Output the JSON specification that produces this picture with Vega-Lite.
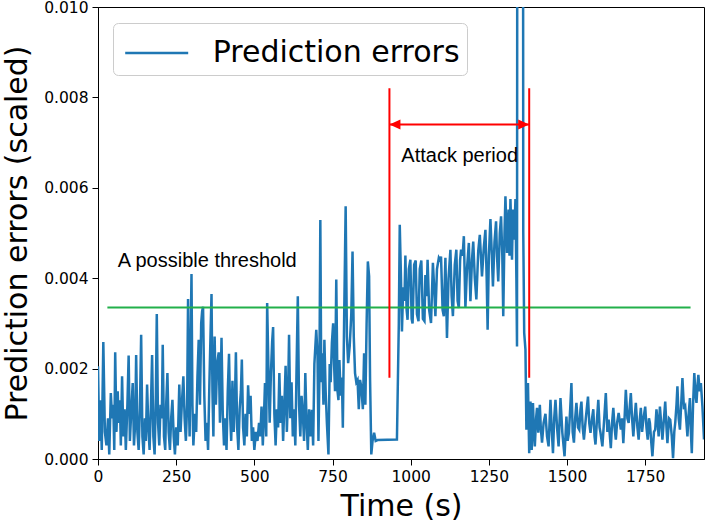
{
  "$schema": "https://vega.github.io/schema/vega-lite/v6.json",
  "width": 606,
  "height": 452,
  "autosize": {"type": "none"},
  "padding": {"left": 98, "top": 7, "right": 2, "bottom": 64},
  "background": "#ffffff",
  "config": {
    "view": {"stroke": "#000000", "strokeWidth": 1},
    "font": "DejaVu Sans",
    "axis": {
      "grid": false,
      "domainColor": "#000000",
      "tickColor": "#000000",
      "labelColor": "#000000",
      "titleColor": "#000000",
      "labelFont": "DejaVu Sans",
      "titleFont": "DejaVu Sans",
      "labelFontSize": 15.5,
      "titleFontSize": 30,
      "titleFontWeight": "normal",
      "tickSize": 6,
      "labelPadding": 4,
      "labelFlush": false,
      "labelOverlap": false
    }
  },
  "datasets": {
    "errors": [
      {"t":0,"v":0.00205},{"t":4,"v":0.0004},{"t":8,"v":0.0013},{"t":12,"v":0.0002},{"t":17,"v":0.00259},{"t":22,"v":0.0006},{"t":27,"v":0.0003},{"t":32,"v":0.0009},{"t":36,"v":0.0001},{"t":41,"v":0.00146},{"t":45,"v":0.0009},{"t":49,"v":0.0012},{"t":52,"v":0.0002},{"t":55,"v":0.00236},{"t":59,"v":0.0006},{"t":63,"v":0.0015},{"t":66,"v":0.0008},{"t":70,"v":0.0013},{"t":73,"v":0.0003},{"t":77,"v":0.00183},{"t":81,"v":0.0005},{"t":85,"v":0.0011},{"t":89,"v":0.0002},{"t":94,"v":0.0012},{"t":98,"v":0.00229},{"t":102,"v":0.0004},{"t":106,"v":0.001},{"t":111,"v":0.00168},{"t":115,"v":0.0003},{"t":119,"v":0.0008},{"t":122,"v":0.0023},{"t":126,"v":0.0006},{"t":130,"v":0.0002},{"t":134,"v":0.0011},{"t":138,"v":0.00275},{"t":142,"v":0.0005},{"t":146,"v":0.0001},{"t":150,"v":0.0009},{"t":153,"v":0.0004},{"t":157,"v":0.00165},{"t":161,"v":0.0007},{"t":165,"v":0.0002},{"t":169,"v":0.0011},{"t":173,"v":0.0023},{"t":177,"v":0.0005},{"t":181,"v":0.0001},{"t":185,"v":0.0014},{"t":188,"v":0.00321},{"t":192,"v":0.0008},{"t":196,"v":0.0003},{"t":200,"v":0.0012},{"t":204,"v":0.0009},{"t":207,"v":0.00253},{"t":211,"v":0.0005},{"t":215,"v":0.0002},{"t":218,"v":0.0012},{"t":222,"v":0.0019},{"t":226,"v":0.0006},{"t":230,"v":0.0002},{"t":234,"v":0.0009},{"t":238,"v":0.00131},{"t":242,"v":0.0005},{"t":246,"v":0.0001},{"t":250,"v":0.0007},{"t":255,"v":0.0003},{"t":260,"v":0.00165},{"t":264,"v":0.0006},{"t":268,"v":0.0012},{"t":273,"v":0.00183},{"t":277,"v":0.0009},{"t":281,"v":0.0004},{"t":285,"v":0.0012},{"t":288,"v":0.00354},{"t":290,"v":0.0015},{"t":293,"v":0.0005},{"t":296,"v":0.0025},{"t":299,"v":0.00409},{"t":302,"v":0.0012},
      {"t":305,"v":0.0003},{"t":310,"v":0.001},{"t":314,"v":0.0006},{"t":318,"v":0.0018},{"t":322,"v":0.00264},{"t":326,"v":0.0012},{"t":330,"v":0.003},{"t":333,"v":0.00327},{"t":336,"v":0.00337},{"t":340,"v":0.0014},{"t":344,"v":0.0004},{"t":348,"v":0.0008},{"t":352,"v":0.0002},{"t":356,"v":0.0016},{"t":360,"v":0.0028},{"t":363,"v":0.00365},{"t":366,"v":0.0015},{"t":369,"v":0.0005},{"t":373,"v":0.00271},{"t":377,"v":0.0012},{"t":381,"v":0.0021},{"t":386,"v":0.00236},{"t":390,"v":0.0008},{"t":395,"v":0.00268},{"t":399,"v":0.001},{"t":403,"v":0.0003},{"t":407,"v":0.0009},{"t":411,"v":0.0002},{"t":415,"v":0.0015},{"t":419,"v":0.00233},{"t":423,"v":0.0009},{"t":426,"v":0.0004},{"t":430,"v":0.00173},{"t":434,"v":0.0006},{"t":438,"v":0.0013},{"t":441,"v":0.00236},{"t":445,"v":0.0007},{"t":449,"v":0.0002},{"t":453,"v":0.0011},{"t":457,"v":0.0015},{"t":460,"v":0.0022},{"t":464,"v":0.0007},{"t":468,"v":0.0003},{"t":472,"v":0.001},{"t":476,"v":0.0005},{"t":480,"v":0.00163},{"t":484,"v":0.001},{"t":488,"v":0.0014},{"t":492,"v":0.0004},{"t":496,"v":0.0007},{"t":500,"v":0.0002},{"t":505,"v":0.0006},{"t":510,"v":0.0004},{"t":515,"v":0.0008},{"t":519,"v":0.0005},{"t":523,"v":0.00116},{"t":527,"v":0.0003},{"t":531,"v":0.001},{"t":534,"v":0.00168},{"t":538,"v":0.0005},{"t":541,"v":0.00345},{"t":545,"v":0.002},{"t":549,"v":0.0008},{"t":553,"v":0.0019},{"t":557,"v":0.0026},{"t":560,"v":0.00292},{"t":564,"v":0.001},{"t":568,"v":0.0003},{"t":572,"v":0.0011},{"t":576,"v":0.0007},{"t":580,"v":0.0019},{"t":584,"v":0.0008},{"t":588,"v":0.0014},{"t":592,"v":0.0004},{"t":596,"v":0.0012},{"t":600,"v":0.00206},{"t":604,"v":0.0006},{"t":608,"v":0.0015},{"t":611,"v":0.00275},{"t":615,"v":0.0009},{"t":619,"v":0.0017},{"t":623,"v":0.0005},{"t":627,"v":0.0011},{"t":631,"v":0.0003},{"t":635,"v":0.002},{"t":639,"v":0.0036},{"t":643,"v":0.0012},{"t":647,"v":0.0005},{"t":651,"v":0.0014},
      {"t":655,"v":0.001},{"t":659,"v":0.0004},{"t":663,"v":0.0019},{"t":667,"v":0.0008},{"t":671,"v":0.0002},{"t":675,"v":0.0011},{"t":680,"v":0.0005},{"t":684,"v":0.00109},{"t":688,"v":0.0003},{"t":692,"v":0.0021},{"t":698,"v":0.00286},{"t":702,"v":0.0023},{"t":705,"v":0.0004},{"t":708,"v":0.0018},{"t":711,"v":0.00529},{"t":714,"v":0.0017},{"t":717,"v":0.00234},{"t":721,"v":0.0012},{"t":724,"v":0.00264},{"t":728,"v":0.0015},{"t":732,"v":0.0008},{"t":737,"v":0.0001},{"t":741,"v":0.0021},{"t":744,"v":0.0017},{"t":748,"v":0.00257},{"t":752,"v":0.003},{"t":755,"v":0.0021},{"t":758,"v":0.0015},{"t":762,"v":0.00397},{"t":766,"v":0.0015},{"t":769,"v":0.0013},{"t":772,"v":0.00219},{"t":776,"v":0.0014},{"t":780,"v":0.0018},{"t":783,"v":0.00069},{"t":787,"v":0.003},{"t":792,"v":0.00559},{"t":796,"v":0.0027},{"t":800,"v":0.00212},{"t":805,"v":0.0025},{"t":810,"v":0.0032},{"t":814,"v":0.00459},{"t":818,"v":0.0027},{"t":822,"v":0.0019},{"t":826,"v":0.0017},{"t":830,"v":0.00175},{"t":834,"v":0.0011},{"t":838,"v":0.00175},{"t":842,"v":0.0016},{"t":847,"v":0.0011},{"t":851,"v":0.00234},{"t":855,"v":0.0012},{"t":859,"v":0.003},{"t":863,"v":0.00437},{"t":867,"v":0.00404},{"t":870,"v":0.0018},{"t":874,"v":0.0001},{"t":878,"v":0.0004},{"t":883,"v":0.00058},{"t":888,"v":0.0004},{"t":894,"v":0.00042},{"t":956,"v":0.00043},
      {"t":962,"v":0.003},{"t":965,"v":0.00518},{"t":969,"v":0.004},{"t":972,"v":0.00282},{"t":976,"v":0.0038},{"t":980,"v":0.0035},{"t":983,"v":0.0045},{"t":987,"v":0.0033},{"t":990,"v":0.00308},{"t":994,"v":0.0042},{"t":999,"v":0.00441},{"t":1003,"v":0.0031},{"t":1006,"v":0.003},{"t":1011,"v":0.0043},{"t":1016,"v":0.00439},{"t":1020,"v":0.0032},{"t":1025,"v":0.00305},{"t":1029,"v":0.0042},{"t":1034,"v":0.00439},{"t":1039,"v":0.0031},{"t":1044,"v":0.00305},{"t":1047,"v":0.00407},{"t":1051,"v":0.0036},{"t":1054,"v":0.00441},{"t":1059,"v":0.0033},{"t":1065,"v":0.00301},{"t":1071,"v":0.00434},{"t":1075,"v":0.0038},{"t":1079,"v":0.00316},{"t":1084,"v":0.0042},{"t":1090,"v":0.00445},{"t":1094,"v":0.0044},{"t":1097,"v":0.00448},{"t":1102,"v":0.0033},{"t":1106,"v":0.00316},{"t":1111,"v":0.00445},{"t":1116,"v":0.00268},{"t":1121,"v":0.004},{"t":1127,"v":0.00463},{"t":1131,"v":0.0036},{"t":1135,"v":0.00316},{"t":1141,"v":0.0043},{"t":1146,"v":0.00463},{"t":1150,"v":0.0035},{"t":1154,"v":0.00334},{"t":1158,"v":0.0044},{"t":1161,"v":0.00463},{"t":1166,"v":0.0045},{"t":1170,"v":0.00493},{"t":1175,"v":0.00334},{"t":1180,"v":0.0042},{"t":1186,"v":0.00478},{"t":1191,"v":0.00349},{"t":1196,"v":0.0044},{"t":1200,"v":0.00481},{"t":1205,"v":0.004},{"t":1210,"v":0.00353},{"t":1216,"v":0.0046},{"t":1221,"v":0.00496},{"t":1228,"v":0.00404},{"t":1234,"v":0.0047},{"t":1239,"v":0.00507},{"t":1243,"v":0.004},{"t":1246,"v":0.00286},{"t":1250,"v":0.0045},{"t":1255,"v":0.00531},{"t":1259,"v":0.0046},{"t":1263,"v":0.00382},{"t":1268,"v":0.0048},{"t":1273,"v":0.00526},{"t":1276,"v":0.0045},{"t":1280,"v":0.00393},{"t":1285,"v":0.005},{"t":1289,"v":0.00537},{"t":1293,"v":0.0045},{"t":1296,"v":0.00316},
      {"t":1300,"v":0.005},{"t":1303,"v":0.00581},{"t":1308,"v":0.00456},{"t":1313,"v":0.00552},{"t":1316,"v":0.0045},{"t":1319,"v":0.00575},{"t":1324,"v":0.00441},{"t":1327,"v":0.00552},{"t":1331,"v":0.00485},{"t":1335,"v":0.00575},{"t":1338,"v":0.004},{"t":1340,"v":0.00249},{"t":1344,"v":0.05},{"t":1350,"v":0.03},{"t":1356,"v":0.05},{"t":1360,"v":0.00502},
      {"t":1363,"v":0.00279},{"t":1367,"v":0.00242},{"t":1370,"v":0.00065},{"t":1375,"v":0.00168},{"t":1379,"v":0.00013},{"t":1383,"v":0.00127},{"t":1387,"v":0.0002},{"t":1391,"v":0.00124},{"t":1394,"v":0.0006},{"t":1397,"v":0.00028},{"t":1401,"v":0.0009},{"t":1404,"v":0.00113},{"t":1408,"v":0.00058},{"t":1413,"v":0.0012},{"t":1416,"v":0.0007},{"t":1420,"v":0.00036},{"t":1425,"v":0.0008},{"t":1431,"v":0.001},{"t":1436,"v":0.0005},{"t":1441,"v":0.00028},{"t":1447,"v":0.00131},{"t":1451,"v":0.00065},{"t":1455,"v":0.00013},{"t":1459,"v":0.0009},{"t":1463,"v":0.00131},{"t":1468,"v":0.0007},{"t":1473,"v":0.00028},{"t":1479,"v":0.00135},{"t":1485,"v":0.00058},{"t":1492,"v":0.00006},{"t":1498,"v":0.00094},{"t":1502,"v":0.0004},{"t":1506,"v":0.00058},{"t":1510,"v":0.0011},{"t":1514,"v":0.00168},{"t":1518,"v":0.0006},{"t":1522,"v":0.00036},{"t":1526,"v":0.0009},{"t":1530,"v":0.00124},{"t":1535,"v":0.0007},{"t":1539,"v":0.00065},{"t":1543,"v":0.0011},{"t":1546,"v":0.00127},{"t":1550,"v":0.0007},{"t":1554,"v":0.00043},{"t":1560,"v":0.0009},{"t":1567,"v":0.00138},{"t":1571,"v":0.0008},{"t":1575,"v":0.00058},{"t":1580,"v":0.0009},{"t":1584,"v":0.0011},{"t":1588,"v":0.0005},{"t":1591,"v":0.00032},{"t":1596,"v":0.0009},{"t":1600,"v":0.00131},{"t":1604,"v":0.0007},{"t":1607,"v":0.00058},{"t":1613,"v":0.00028},{"t":1619,"v":0.0009},{"t":1624,"v":0.00146},{"t":1629,"v":0.0006},{"t":1633,"v":0.00087},{"t":1640,"v":0.00024},{"t":1644,"v":0.0008},{"t":1648,"v":0.00113},{"t":1652,"v":0.0007},{"t":1656,"v":0.00043},{"t":1660,"v":0.0008},{"t":1665,"v":0.00102},{"t":1672,"v":0.00065},{"t":1676,"v":0.0009},{"t":1680,"v":0.00035},{"t":1684,"v":0.0009},{"t":1688,"v":0.00153},{"t":1693,"v":0.0009},{"t":1697,"v":0.0008},{"t":1701,"v":0.0012},{"t":1704,"v":0.00146},{"t":1708,"v":0.0009},{"t":1712,"v":0.0005},{"t":1716,"v":0.0009},{"t":1720,"v":0.00124},{"t":1725,"v":0.0007},{"t":1729,"v":0.00043},{"t":1733,"v":0.0009},{"t":1736,"v":0.00113},{"t":1740,"v":0.0006},{"t":1744,"v":0.00087},{"t":1750,"v":0.00116},{"t":1754,"v":0.0007},{"t":1758,"v":0.00043},{"t":1762,"v":0.0009},{"t":1765,"v":0.0008},{"t":1769,"v":0.0004},{"t":1773,"v":0.00006},{"t":1778,"v":0.0006},{"t":1782,"v":0.00065},{"t":1786,"v":0.0011},{"t":1789,"v":0.00087},{"t":1793,"v":0.0005},{"t":1797,"v":0.00116},{"t":1801,"v":0.0008},{"t":1805,"v":0.00043},{"t":1810,"v":0.0009},{"t":1814,"v":0.00127},{"t":1818,"v":0.0007},{"t":1821,"v":0.00035},{"t":1826,"v":0.0009},{"t":1830,"v":0.00087},{"t":1835,"v":0.0005},{"t":1839,"v":0.00002},{"t":1843,"v":0.0006},{"t":1846,"v":0.0008},{"t":1850,"v":0.0012},{"t":1853,"v":0.00161},{"t":1857,"v":0.0009},{"t":1861,"v":0.00065},{"t":1865,"v":0.0012},{"t":1869,"v":0.00179},{"t":1874,"v":0.0011},{"t":1878,"v":0.00116},{"t":1882,"v":0.0008},{"t":1885,"v":0.0005},{"t":1889,"v":0.001},{"t":1893,"v":0.00135},{"t":1896,"v":0.0006},{"t":1899,"v":0.00013},{"t":1903,"v":0.0012},{"t":1907,"v":0.0019},{"t":1911,"v":0.0014},{"t":1914,"v":0.00124},{"t":1917,"v":0.0016},{"t":1920,"v":0.00186},{"t":1924,"v":0.0015},{"t":1928,"v":0.00168},{"t":1933,"v":0.00116},{"t":1938,"v":0.00043}
    ],
    "threshold": [{"t": 30, "t2": 1895, "v": 0.00335}],
    "bounds": [{"t": 932, "v": 0.0018, "v2": 0.0082}, {"t": 1379, "v": 0.0018, "v2": 0.0082}],
    "arrow": [{"t": 932, "t2": 1379, "v": 0.0074}],
    "notes": [
      {"t": 970, "v": 0.00671, "label": "Attack period"},
      {"t": 63, "v": 0.00437, "label": "A possible threshold"}
    ]
  },
  "layer": [
    {
      "data": {"name": "errors"},
      "mark": {"type": "line", "clip": true, "strokeWidth": 2.5, "interpolate": "linear"},
      "encoding": {
        "x": {
          "field": "t", "type": "quantitative",
          "scale": {"domain": [0, 1938], "nice": false, "zero": false},
          "axis": {"title": "Time (s)", "values": [0, 250, 500, 750, 1000, 1250, 1500, 1750], "format": "d", "titlePadding": 7}
        },
        "y": {
          "field": "v", "type": "quantitative",
          "scale": {"domain": [0, 0.01], "nice": false},
          "axis": {"title": "Prediction errors (scaled)", "values": [0, 0.002, 0.004, 0.006, 0.008, 0.01], "format": ".3f", "titlePadding": 11}
        },
        "color": {
          "datum": "Prediction errors",
          "type": "nominal",
          "scale": {"range": ["#1f77b4"]},
          "legend": {
            "orient": "none",
            "legendX": 15,
            "legendY": 16,
            "title": null,
            "symbolType": "M-1.465,0L1.465,0",
            "symbolSize": 1849,
            "symbolStrokeWidth": 2.5,
            "symbolStrokeColor": "#1f77b4",
            "symbolFillColor": "transparent",
            "symbolOffset": 13.7,
            "labelFontSize": 30,
            "labelFont": "DejaVu Sans",
            "labelColor": "#000000",
            "labelLimit": 0,
            "labelOffset": 33,
            "padding": 7,
            "strokeColor": "#cccccc",
            "fillColor": "#ffffff",
            "cornerRadius": 5
          }
        }
      }
    },
    {
      "data": {"name": "threshold"},
      "mark": {"type": "rule", "color": "#22b04b", "strokeWidth": 2},
      "encoding": {
        "x": {"field": "t", "type": "quantitative"},
        "x2": {"field": "t2"},
        "y": {"field": "v", "type": "quantitative"}
      }
    },
    {
      "data": {"name": "bounds"},
      "mark": {"type": "rule", "color": "#ff0000", "strokeWidth": 2},
      "encoding": {
        "x": {"field": "t", "type": "quantitative"},
        "y": {"field": "v", "type": "quantitative"},
        "y2": {"field": "v2"}
      }
    },
    {
      "data": {"name": "arrow"},
      "mark": {"type": "rule", "color": "#ff0000", "strokeWidth": 2},
      "encoding": {
        "x": {"field": "t", "type": "quantitative"},
        "x2": {"field": "t2"},
        "y": {"field": "v", "type": "quantitative"}
      }
    },
    {
      "data": {"name": "arrow"},
      "mark": {"type": "point", "filled": true, "color": "#ff0000", "opacity": 1, "size": 484, "shape": "M0,0L1,-0.45L1,0.45Z"},
      "encoding": {
        "x": {"field": "t", "type": "quantitative"},
        "y": {"field": "v", "type": "quantitative"}
      }
    },
    {
      "data": {"name": "arrow"},
      "mark": {"type": "point", "filled": true, "color": "#ff0000", "opacity": 1, "size": 484, "shape": "M0,0L-1,-0.45L-1,0.45Z"},
      "encoding": {
        "x": {"field": "t2", "type": "quantitative"},
        "y": {"field": "v", "type": "quantitative"}
      }
    },
    {
      "data": {"name": "notes"},
      "mark": {"type": "text", "align": "left", "baseline": "middle", "font": "Liberation Sans", "fontSize": 20, "color": "#000000"},
      "encoding": {
        "x": {"field": "t", "type": "quantitative"},
        "y": {"field": "v", "type": "quantitative"},
        "text": {"field": "label"}
      }
    }
  ]
}
